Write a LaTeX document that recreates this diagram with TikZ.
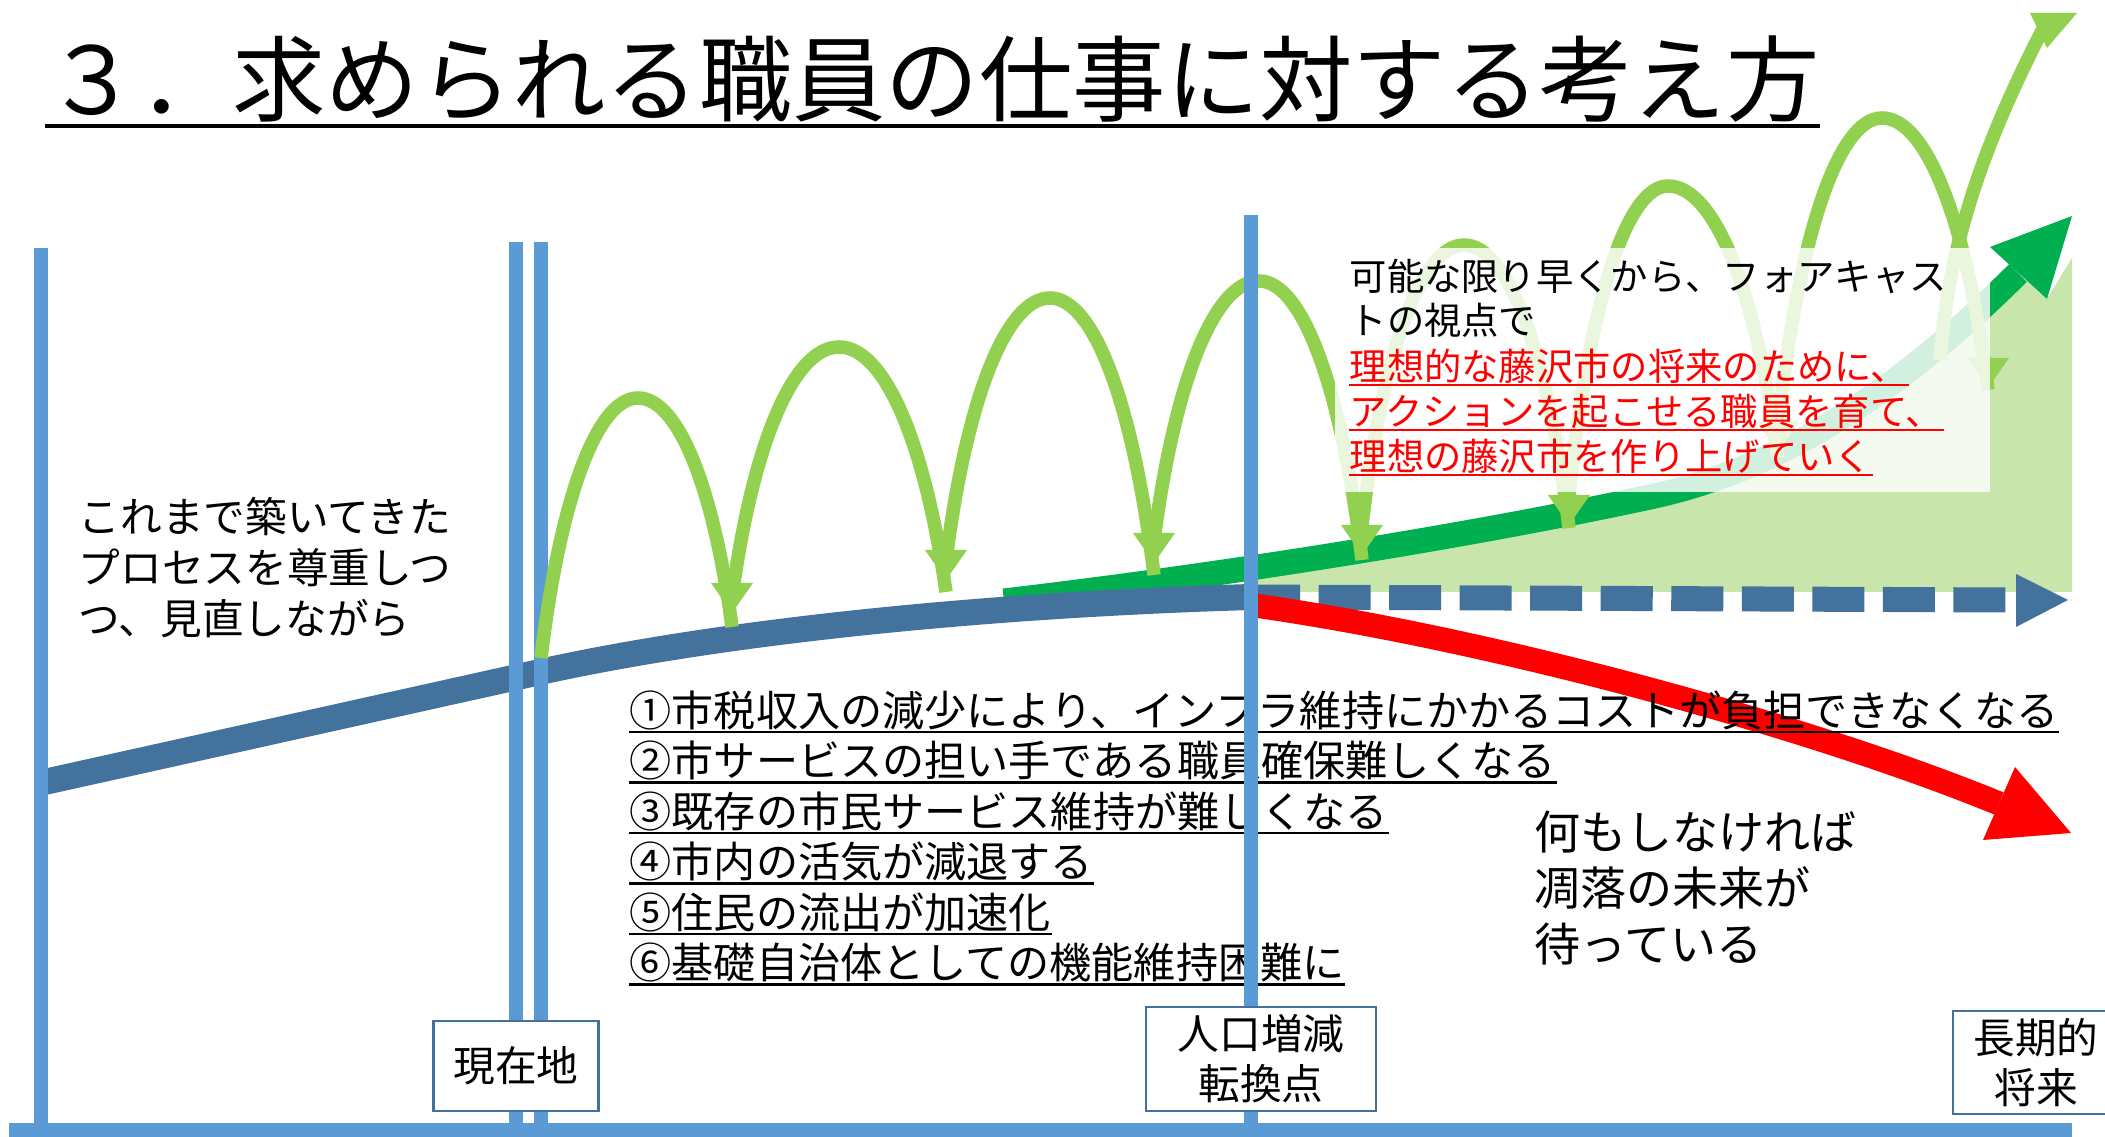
\documentclass[tikz,border=0pt]{standalone}
\usepackage{fontspec}
\setmainfont{Noto Sans CJK JP}
\usetikzlibrary{calc}
\definecolor{vline}{RGB}{91,155,213}
\definecolor{bandblue}{RGB}{67,114,157}
\definecolor{boxedge}{RGB}{65,113,156}
\definecolor{humpgreen}{RGB}{146,208,80}
\definecolor{darkgreen}{RGB}{0,176,80}
\definecolor{lightfill}{RGB}{200,230,172}
\definecolor{redc}{RGB}{255,0,0}
\tikzset{
  axisline/.style={vline, line width=0.145cm},
  humpline/.style={humpgreen, line width=0.135cm},
  titletext/.style={anchor=base west, inner sep=0pt, font=\fontsize{26.55pt}{30pt}\selectfont},
  listtext/.style={anchor=base west, inner sep=0pt, font=\fontsize{11.98pt}{14pt}\selectfont},
  lefttext/.style={anchor=base west, inner sep=0pt, font=\fontsize{11.85pt}{14pt}\selectfont},
  righttext/.style={anchor=base west, inner sep=0pt, font=\fontsize{13.09pt}{15pt}\selectfont},
  boxtext/.style={anchor=base west, inner sep=0pt, font=\fontsize{10.61pt}{12pt}\selectfont},
  redtext/.style={boxtext, text=redc},
  labelbox/.style={draw=boxedge, line width=0.025cm, fill=white, align=center, inner sep=0pt,
                   font=\fontsize{11.86pt}{14.2pt}\selectfont},
  ulblack/.style={black, line width=0.025cm},
  ulred/.style={redc, line width=0.02cm},
}
% hump: start (#1,#2), peak (#3,#4), shaft end (#5,#6), head tip (#7,#8)
\newcommand{\humparc}[8]{%
  \draw[humpline] (#1,#2) .. controls ({#1+0.2*(#3-#1)},{#2+0.62*(#4-#2)}) and ({#3-0.42*(#3-#1)},#4) .. (#3,#4)
     .. controls ({#3+0.42*(#5-#3)},#4) and ({#5-0.2*(#5-#3)},{#6-0.62*(#6-#4)}) .. (#5,#6);
  \fill[humpgreen] ({#7-21},{#8-30}) -- ({#7+21},{#8-30}) -- (#7,#8) -- cycle;
}
\begin{document}
\begin{tikzpicture}[x=0.01cm,y=-0.01cm]
\useasboundingbox (0,0) rectangle (2105,1137);
\fill[white] (0,0) rectangle (2105,1137);

% light green area
\fill[lightfill] (1251,575) .. controls (1350,562) and (1500,530) .. (1650,497)
   .. controls (1800,465) and (1920,370) .. (2018,273) -- (2047,299) -- (2072,258)
   -- (2072,592) -- (1251,592) -- cycle;

% dark green arrow
\coordinate (gS) at (1004,601);
\coordinate (gE) at (2018,273);
\draw[darkgreen, line width=0.25cm] (gS) .. controls (1200,578) and (1450,540) .. (1650,497)
   .. controls (1800,465) and (1920,370) .. (gE);
\fill[darkgreen] (1990,247) -- (2072,216) -- (2047,299) -- cycle;

% blue band
\coordinate (bS) at (40,783);
\coordinate (bK) at (540,672);
\coordinate (turn) at (1251,597);
\draw[bandblue, line width=0.26cm] (bS) -- (bK) .. controls (700,636.5) and (950,606) .. (turn);

% dashed continuation
\coordinate (dS) at (1248,597);
\coordinate (dE) at (2016,600);
\draw[bandblue, line width=0.25cm, dash pattern=on 0.52cm off 0.185cm] (dS) -- (dE);
\fill[bandblue] (2016,574) -- (2068,600) -- (2016,627) -- cycle;

% red arrow
\coordinate (rS) at (1251,605);
\coordinate (rE) at (1999,803.5);
\draw[redc, line width=0.24cm] (rS) .. controls (1500,640) and (1820,730) .. (rE);
\fill[redc] (2015,767) -- (2071,833) -- (1983,840) -- cycle;

% list
\node[listtext] (l1) at (629,726.5) {①市税収入の減少により、インフラ維持にかかるコストが負担できなくなる};
\node[listtext] (l2) at (629,777) {②市サービスの担い手である職員確保難しくなる};
\node[listtext] (l3) at (629,827.5) {③既存の市民サービス維持が難しくなる};
\node[listtext] (l4) at (629,878) {④市内の活気が減退する};
\node[listtext] (l5) at (629,928.5) {⑤住民の流出が加速化};
\node[listtext] (l6) at (629,979) {⑥基礎自治体としての機能維持困難に};
\foreach \n in {l1,l2,l3,l4,l5,l6}
  \draw[ulblack] ($(\n.base west)+(0,5.5)$) -- ($(\n.base east)+(0,5.5)$);

% axis lines
\draw[axisline] (41,248) -- (41,1130);
\draw[axisline] (516,242) -- (516,1130);
\draw[axisline] (541,242) -- (541,1130);
\draw[vline, line width=0.14cm] (9,1130) -- (2072,1130);

% humps
\humparc{541}{658}{638}{398}{732}{627}{732}{613}
\humparc{733}{590}{839}{347}{946}{592}{946}{580}
\humparc{946}{560}{1050}{298}{1154}{575}{1154}{563}
\humparc{1154}{540}{1259}{281}{1362}{560}{1362}{555}
\humparc{1362}{525}{1464}{245}{1569}{528}{1569}{525}
\humparc{1569}{495}{1668}{186}{1778}{458}{1778}{452}
\humparc{1778}{425}{1882}{118}{1988}{390}{1988}{388}
\coordinate (fS) at (1940,360);
\coordinate (fE) at (2045,25);
\draw[humpline] (fS) .. controls (1948,250) and (1980,150) .. (fE);
\fill[humpgreen] (2030,13) -- (2077,13) -- (2047,48) -- cycle;

% turning-point axis drawn over the humps
\draw[axisline] (1251,215) -- (1251,1130);

% translucent white panel
\fill[white, opacity=0.82] (1335,248) rectangle (1990,492);

% panel text
\node[boxtext] (f1) at (1349,291) {可能な限り早くから、フォアキャス};
\node[boxtext] (f2) at (1349,335) {トの視点で};
\node[redtext] (f3) at (1349,381) {理想的な藤沢市の将来のために、};
\node[redtext] (f4) at (1349,426) {アクションを起こせる職員を育て、};
\node[redtext] (f5) at (1349,471) {理想の藤沢市を作り上げていく};
\foreach \n in {f3,f4,f5}
  \draw[ulred] ($(\n.base west)+(0,4)$) -- ($(\n.base east)+(0,4)$);

% label boxes
\node[labelbox, minimum width=1.65cm, minimum height=0.9cm] (now) at (516,1066) {現在地};
\node[labelbox, minimum width=2.3cm, minimum height=1.04cm] (pivot) at (1261,1059) {人口増減\\転換点};
\node[labelbox, minimum width=1.66cm, minimum height=1.03cm] (future) at (2036,1062.5) {長期的\\将来};

% side texts
\node[lefttext] (a1) at (78,533) {これまで築いてきた};
\node[lefttext] (a2) at (78,584) {プロセスを尊重しつ};
\node[lefttext] (a3) at (78,635) {つ、見直しながら};
\node[righttext] (b1) at (1534,850) {何もしなければ};
\node[righttext] (b2) at (1534,906) {凋落の未来が};
\node[righttext] (b3) at (1534,962) {待っている};

% title
\node[titletext] (title) at (45,115) {３．求められる職員の仕事に対する考え方};
\draw[black, line width=0.04cm] ($(title.base west)+(0,11)$) -- ($(title.base east)+(0,11)$);
\end{tikzpicture}
\end{document}
